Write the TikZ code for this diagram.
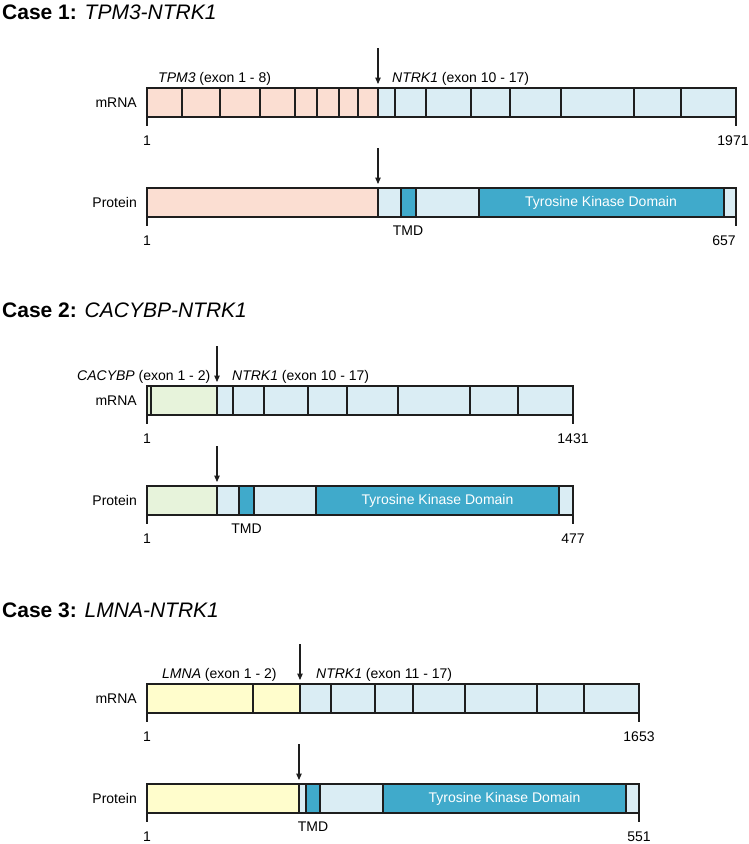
\documentclass[tikz,border=0pt]{standalone}
\usepackage{fontspec}
\setmainfont{Liberation Sans}
\usetikzlibrary{arrows.meta}

\definecolor{tpmfill}{RGB}{251,222,210}
\definecolor{ntrkfill}{RGB}{218,237,244}
\definecolor{kinase}{RGB}{64,170,203}
\definecolor{cacfill}{RGB}{231,243,219}
\definecolor{lmnafill}{RGB}{255,253,204}
\definecolor{edge}{RGB}{30,30,30}

\tikzset{
  seg/.style={draw=edge, line width=1.2pt},
  fuse/.style={-{Triangle[length=6.5pt,width=5.5pt]}, line width=1.1pt, edge},
  lbl/.style={anchor=base, inner sep=0pt},
  casetitle/.style={anchor=base west, inner sep=0pt, font=\fontsize{21}{25}\selectfont},
}

\begin{document}
\begin{tikzpicture}[x=1pt, y=-1pt, font=\fontsize{14}{16}\selectfont]
\useasboundingbox (0,0) rectangle (749,844);

% Case 1
\node[casetitle] (t1) at (2,19) {\textbf{Case 1:} \textit{TPM3-NTRK1}};

\fill[tpmfill] (147,88) rectangle (378,117);
\fill[ntrkfill] (378,88) rectangle (736,117);
\foreach \x in {182,220,260,295,317,339,358,378,395,426,471,510,561,634,681}
  \draw[seg] (\x,88) -- (\x,117);
\draw[seg] (147,88) rectangle (736,117);
\draw[seg] (147,117) -- (147,126);
\draw[seg] (736,117) -- (736,126);

\fill[tpmfill] (147,188) rectangle (378,217);
\fill[ntrkfill] (378,188) rectangle (736,217);
\fill[kinase] (401,188) rectangle (416,217);
\fill[kinase] (479,188) rectangle (724,217);
\foreach \x in {378,401,416,479,724}
  \draw[seg] (\x,188) -- (\x,217);
\draw[seg] (147,188) rectangle (736,217);
\draw[seg] (147,217) -- (147,226);
\draw[seg] (736,217) -- (736,226);

\coordinate (a1m) at (378,48);
\coordinate (b1m) at (378,84);
\coordinate (a1p) at (378,148);
\coordinate (b1p) at (378,184);
\draw[fuse] (a1m) -- (b1m);
\draw[fuse] (a1p) -- (b1p);

\node[lbl, anchor=base west] (g1a) at (158,82) {\textit{TPM3} (exon 1 - 8)};
\node[lbl, anchor=base west] (g1b) at (392,82) {\textit{NTRK1} (exon 10 - 17)};
\node[lbl, anchor=base east] (m1) at (137,107) {mRNA};
\node[lbl, anchor=base east] (p1) at (137,207) {Protein};
\node[lbl] (s1m) at (147,145) {1};
\node[lbl] (e1m) at (733,145) {1971};
\node[lbl] (s1p) at (147,245) {1};
\node[lbl] (e1p) at (724,245) {657};
\node[lbl] (tmd1) at (408,235) {TMD};
\node[white] (tk1) at (601,202.5) {Tyrosine Kinase Domain};

% Case 2
\begin{scope}[shift={(0,298)}]
\node[casetitle] (t2) at (2,19) {\textbf{Case 2:} \textit{CACYBP-NTRK1}};

\fill[cacfill] (147,88) rectangle (217,117);
\fill[ntrkfill] (217,88) rectangle (573,117);
\foreach \x in {151,217,233,264,308,347,398,470,518}
  \draw[seg] (\x,88) -- (\x,117);
\draw[seg] (147,88) rectangle (573,117);
\draw[seg] (147,117) -- (147,126);
\draw[seg] (573,117) -- (573,126);

\fill[cacfill] (147,188) rectangle (217,217);
\fill[ntrkfill] (217,188) rectangle (573,217);
\fill[kinase] (239,188) rectangle (254,217);
\fill[kinase] (316,188) rectangle (559,217);
\foreach \x in {217,239,254,316,559}
  \draw[seg] (\x,188) -- (\x,217);
\draw[seg] (147,188) rectangle (573,217);
\draw[seg] (147,217) -- (147,226);
\draw[seg] (573,217) -- (573,226);

\coordinate (a2m) at (217,48);
\coordinate (b2m) at (217,84);
\coordinate (a2p) at (217,148);
\coordinate (b2p) at (217,184);
\draw[fuse] (a2m) -- (b2m);
\draw[fuse] (a2p) -- (b2p);

\node[lbl, anchor=base west] (g2a) at (77,82) {\textit{CACYBP} (exon 1 - 2)};
\node[lbl, anchor=base west] (g2b) at (232,82) {\textit{NTRK1} (exon 10 - 17)};
\node[lbl, anchor=base east] (m2) at (137,107) {mRNA};
\node[lbl, anchor=base east] (p2) at (137,207) {Protein};
\node[lbl] (s2m) at (147,145) {1};
\node[lbl] (e2m) at (573,145) {1431};
\node[lbl] (s2p) at (147,245) {1};
\node[lbl] (e2p) at (573,245) {477};
\node[lbl] (tmd2) at (246.5,235) {TMD};
\node[white] (tk2) at (437.5,202.5) {Tyrosine Kinase Domain};
\end{scope}

% Case 3
\begin{scope}[shift={(0,596)}]
\node[casetitle] (t3) at (2,21) {\textbf{Case 3:} \textit{LMNA-NTRK1}};

\fill[lmnafill] (147,88) rectangle (300,117);
\fill[ntrkfill] (300,88) rectangle (639,117);
\foreach \x in {253,300,331,375,413,465,537,584}
  \draw[seg] (\x,88) -- (\x,117);
\draw[seg] (147,88) rectangle (639,117);
\draw[seg] (147,117) -- (147,126);
\draw[seg] (639,117) -- (639,126);

\fill[lmnafill] (147,188) rectangle (299,217);
\fill[ntrkfill] (299,188) rectangle (639,217);
\fill[kinase] (306,188) rectangle (320,217);
\fill[kinase] (383,188) rectangle (626,217);
\foreach \x in {299,306,320,383,626}
  \draw[seg] (\x,188) -- (\x,217);
\draw[seg] (147,188) rectangle (639,217);
\draw[seg] (147,217) -- (147,226);
\draw[seg] (639,217) -- (639,226);

\coordinate (a3m) at (300,48);
\coordinate (b3m) at (300,84);
\coordinate (a3p) at (299,148);
\coordinate (b3p) at (299,184);
\draw[fuse] (a3m) -- (b3m);
\draw[fuse] (a3p) -- (b3p);

\node[lbl, anchor=base west] (g3a) at (162,82) {\textit{LMNA} (exon 1 - 2)};
\node[lbl, anchor=base west] (g3b) at (316,82) {\textit{NTRK1} (exon 11 - 17)};
\node[lbl, anchor=base east] (m3) at (137,107) {mRNA};
\node[lbl, anchor=base east] (p3) at (137,207) {Protein};
\node[lbl] (s3m) at (147,145) {1};
\node[lbl] (e3m) at (639,145) {1653};
\node[lbl] (s3p) at (147,245) {1};
\node[lbl] (e3p) at (639,245) {551};
\node[lbl] (tmd3) at (313,235) {TMD};
\node[white] (tk3) at (504.5,202.5) {Tyrosine Kinase Domain};
\end{scope}
\end{tikzpicture}
\end{document}
